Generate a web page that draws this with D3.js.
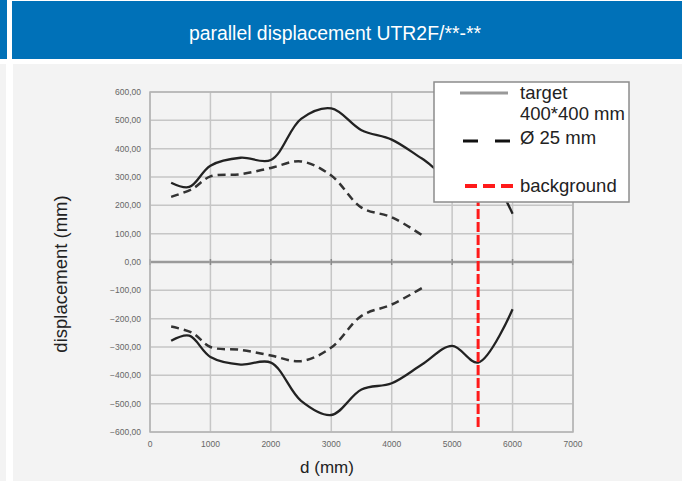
<!DOCTYPE html>
<html><head><meta charset="utf-8">
<script src="https://cdn.jsdelivr.net/npm/d3@7"></script>
<style>html,body{margin:0;padding:0;background:#fff;}svg{display:block;font-family:"Liberation Sans",Arial,sans-serif;}</style>
</head><body>
<svg id="c" width="688" height="481"></svg>
<script>
const titleText = "parallel displacement UTR2F/**-**";
const yTicks = [600,500,400,300,200,100,0,-100,-200,-300,-400,-500,-600];
const xTicks = [0,1000,2000,3000,4000,5000,6000,7000];
const targetD = [350,650,1000,1500,2000,2500,3000,3500,4000,4500,5000,5430,6000];
const targetUpper = [280,265,340,368,360,505,542,465,432,365,298,355,170];
const targetLower = [-278,-260,-335,-362,-355,-490,-540,-450,-428,-362,-296,-355,-167];
const rodD = [350,700,1000,1500,2000,2500,3000,3500,4000,4500];
const rodUpper = [230,258,302,310,332,355,305,192,158,95];
const rodLower = [-228,-250,-300,-310,-330,-350,-302,-190,-150,-92];
const backgroundD = [5430,5430];
const backgroundV = [600,-585];
const legendLabels = ["target","400*400 mm","Ø 25 mm","background"];

const svg = d3.select("#c");
// header
svg.append("rect").attr("x",0).attr("y",0).attr("width",7).attr("height",59).attr("fill","#0071b8");
svg.append("rect").attr("x",12).attr("y",1).attr("width",670).attr("height",58).attr("fill","#0071b8");
svg.append("rect").attr("x",0).attr("y",64).attr("width",6).attr("height",417).attr("fill","#f3f3f3");
svg.append("rect").attr("x",13).attr("y",64).attr("width",669).attr("height",417).attr("fill","#f3f3f3");
svg.append("text").attr("x",335).attr("y",40).attr("text-anchor","middle").attr("fill","#fff")
  .attr("font-size",19.4).text(titleText);

const x = d3.scaleLinear().domain([0,7000]).range([150,573]);
const y = d3.scaleLinear().domain([-600,600]).range([432,92]);

const g = svg.append("g");
// grid
g.selectAll(".hg").data(yTicks).join("line")
  .attr("x1",x(0)).attr("x2",x(7000)).attr("y1",d=>y(d)).attr("y2",d=>y(d))
  .attr("stroke",d=>d===0?"#9a9a9a":"#c6c6c6").attr("stroke-width",d=>d===0?2.5:1.5);
g.selectAll(".vg").data(xTicks).join("line")
  .attr("x1",d=>x(d)).attr("x2",d=>x(d)).attr("y1",y(600)).attr("y2",y(-600))
  .attr("stroke","#c6c6c6").attr("stroke-width",1.5);
// ticks on zero line
g.selectAll(".zt").data(xTicks).join("line")
  .attr("x1",d=>x(d)).attr("x2",d=>x(d)).attr("y1",y(0)-3).attr("y2",y(0)+3)
  .attr("stroke","#8a8a8a").attr("stroke-width",1.5);
g.append("rect").attr("x",x(0)).attr("y",y(600)).attr("width",x(7000)-x(0)).attr("height",y(-600)-y(600))
  .attr("fill","none").attr("stroke","#b4b4b4").attr("stroke-width",1.5);

// tick labels
const fmt = v => d3.format(".2f")(v).replace(".",",");
g.selectAll(".yl").data(yTicks).join("text")
  .attr("x",141).attr("y",d=>y(d)+3).attr("text-anchor","end").attr("font-size",8.5).attr("fill","#666")
  .text(d=>fmt(d));
g.selectAll(".xl").data(xTicks).join("text")
  .attr("x",d=>x(d)).attr("y",447).attr("text-anchor","middle").attr("font-size",8.5).attr("fill","#666")
  .text(d=>d);

// axis titles
svg.append("text").attr("transform","translate(67,274) rotate(-90)").attr("text-anchor","middle")
  .attr("font-size",18.5).attr("fill","#222").text("displacement (mm)");
svg.append("text").attr("x",327).attr("y",473).attr("text-anchor","middle")
  .attr("font-size",17).attr("fill","#222").text("d (mm)");

// lines
const line = d3.line().x(d=>x(d[0])).y(d=>y(d[1])).curve(d3.curveCatmullRom.alpha(0.5));
const zip = (a,b)=>a.map((v,i)=>[v,b[i]]);
g.append("path").attr("d",line(zip(rodD,rodUpper))).attr("fill","none").attr("stroke","#333").attr("stroke-width",2.5).attr("stroke-dasharray","8,5");
g.append("path").attr("d",line(zip(rodD,rodLower))).attr("fill","none").attr("stroke","#333").attr("stroke-width",2.5).attr("stroke-dasharray","8,5");
g.append("path").attr("d",line(zip(targetD,targetUpper))).attr("fill","none").attr("stroke","#222").attr("stroke-width",2.3);
g.append("path").attr("d",line(zip(targetD,targetLower))).attr("fill","none").attr("stroke","#222").attr("stroke-width",2.3);
g.append("path").attr("d",d3.line().x(d=>x(d[0])).y(d=>y(d[1]))(zip(backgroundD,backgroundV)))
  .attr("fill","none").attr("stroke","#ff1a1a").attr("stroke-width",3).attr("stroke-dasharray","10,3");

// legend
const lg = svg.append("g");
lg.append("rect").attr("x",434).attr("y",82).attr("width",195).attr("height",120)
  .attr("fill","#fff").attr("stroke","#8c8c8c").attr("stroke-width",1.5);
lg.append("line").attr("x1",460).attr("x2",508).attr("y1",93).attr("y2",93).attr("stroke","#999").attr("stroke-width",3);
lg.append("line").attr("x1",463).attr("x2",510).attr("y1",141).attr("y2",141).attr("stroke","#111").attr("stroke-width",3).attr("stroke-dasharray","15,17");
lg.append("line").attr("x1",465).attr("x2",513).attr("y1",186).attr("y2",186).attr("stroke","#ff1a1a").attr("stroke-width",4).attr("stroke-dasharray","12,6");
const ly = [99,120,144,192];
lg.selectAll(".lt").data(legendLabels).join("text").attr("x",520).attr("y",(d,i)=>ly[i])
  .attr("font-size",18.5).attr("fill","#222").text(d=>d);
</script>
</body></html>
